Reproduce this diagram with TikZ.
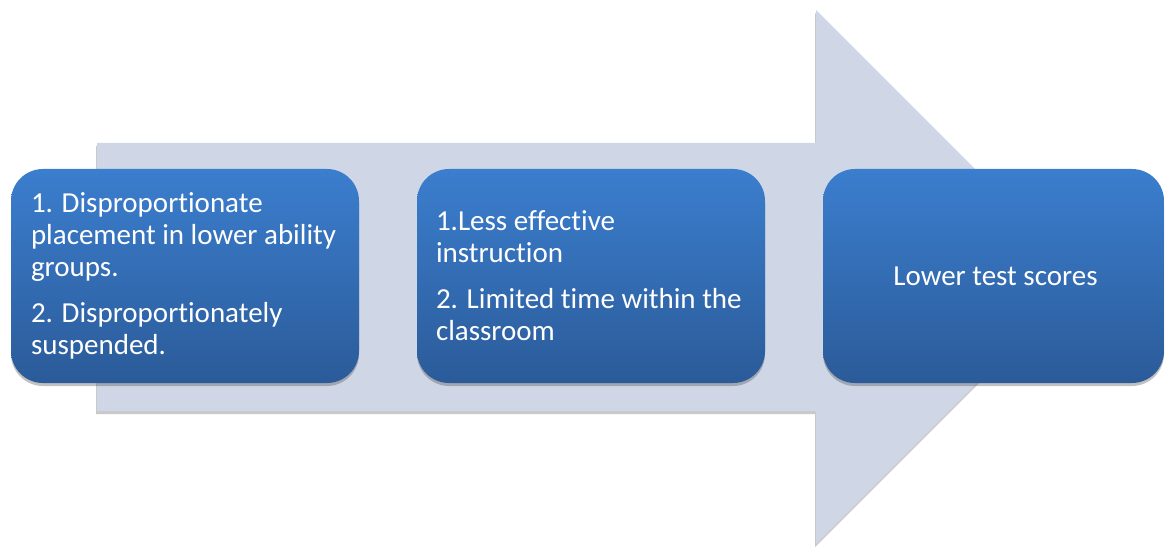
\documentclass[tikz,border=0pt]{standalone}
\usepackage{fontspec}
\setmainfont{Carlito}[Ligatures={NoCommon}]
\usetikzlibrary{shadows}
\definecolor{arrowfill}{RGB}{207,215,231}
\definecolor{boxtop}{RGB}{59,126,206}
\definecolor{boxbot}{RGB}{43,91,153}
\begin{document}
\begin{tikzpicture}[x=1pt,y=-1pt,
  arrowshape/.style={fill=arrowfill, draw=none,
    drop shadow={shadow xshift=-1pt,shadow yshift=-3pt,opacity=0.3,fill=black!70}},
  box/.style={rounded corners=32pt, top color=boxtop, bottom color=boxbot, draw=none,
    minimum height=214pt, inner sep=0pt,
    drop shadow={shadow xshift=0pt,shadow yshift=-3pt,opacity=0.35,fill=black!70}},
  boxtext/.style={text=white, font=\fontsize{29}{32}\selectfont, align=left, inner sep=0pt, anchor=west}]
\useasboundingbox (0,0) rectangle (1165,548);
\path[arrowshape] (97,143) -- (816,143) -- (816,10) -- (1083,277) -- (816,544) -- (816,411) -- (97,411) -- cycle;
\node[box, minimum width=348pt] (b1) at (185,276) {};
\node[box, minimum width=348pt] (b2) at (591,276) {};
\node[box, minimum width=341pt] (b3) at (993.5,276) {};
\node[boxtext] (t1) at ([xshift=20pt]b1.west) {1. Disproportionate\\placement in lower ability\\groups.\\[14pt]2. Disproportionately\\suspended.};
\node[boxtext] (t2) at ([xshift=19pt]b2.west) {1.Less effective\\instruction\\[14pt]2. Limited time within the\\classroom};
\node[boxtext, anchor=center, align=center] (t3) at ([xshift=2pt]b3.center) {Lower test scores};
\end{tikzpicture}
\end{document}
